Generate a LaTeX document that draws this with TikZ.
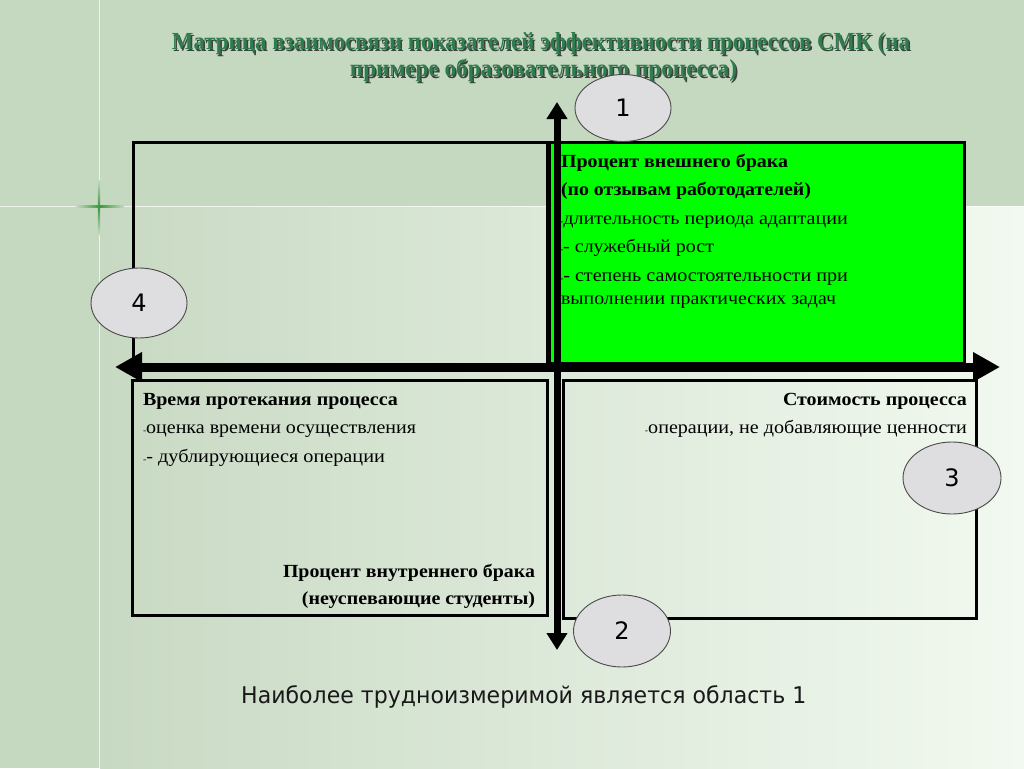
\documentclass[tikz,border=0pt]{standalone}
\usepackage{fontspec}
\usepackage{graphicx}
\setmainfont{Liberation Serif}
\newfontfamily\dejavu{DejaVu Sans}
\usetikzlibrary{arrows.meta,shapes.geometric}

\definecolor{bgout}{HTML}{C5D8C0}
\definecolor{bgleft}{HTML}{C8D9C3}
\definecolor{bgright}{HTML}{F2F9F0}
\definecolor{titlegreen}{HTML}{2F7D4F}
\definecolor{titleshadow}{HTML}{1E1E1E}
\definecolor{brightgreen}{HTML}{00FF00}
\definecolor{ellfill}{HTML}{DEDEE0}
\definecolor{ellline}{HTML}{4A4A4A}
\definecolor{sparkgreen}{HTML}{3C9A3C}

\newcommand{\fitw}[2]{\resizebox{#1}{\height}{#2}}
\newcommand{\smdash}{{\fontsize{9}{9}\selectfont -}}

\begin{document}
\begin{tikzpicture}[x=1pt,y=-1pt,
  quad/.style={draw=black, line width=3pt, rectangle, inner sep=0pt, outer sep=0pt, anchor=north west},
  num/.style={ellipse, draw=ellline, line width=0.9pt, fill=ellfill, inner sep=0pt,
              font=\dejavu\fontsize{24}{24}\selectfont},
  txt/.style={inner sep=0pt, outer sep=0pt, font=\fontsize{18.5}{20}\selectfont, text=black},
  btxt/.style={txt, font=\fontsize{18.5}{20}\selectfont\bfseries},
  ttl/.style={inner sep=0pt, outer sep=0pt, anchor=base, font=\fontsize{24.5}{26}\selectfont\bfseries},
  axis/.style={draw=black},
]
\useasboundingbox (0,0) rectangle (1024,768);
% background
\fill[bgout] (0,0) rectangle (1024,768);
\shade[left color=bgleft, right color=bgright] (100,206) rectangle (1024,768);
\draw[white, opacity=0.7, line width=1pt] (99,0) -- (99,768);
\draw[white, opacity=0.7, line width=1pt] (0,206.5) -- (1024,206.5);
\shade[left color=bgout, right color=bgout, middle color=sparkgreen] (76,205.3) rectangle (124,207.7);
\shade[top color=bgout, bottom color=bgout, middle color=sparkgreen] (97.8,180) rectangle (100.2,234);

% title
\node[ttl, text=titleshadow, opacity=0.8] at (542.5,51.5) {\fitw{738pt}{Матрица взаимосвязи показателей эффективности процессов СМК (на}};
\node[ttl, text=titlegreen] (title1) at (541,50) {\fitw{738pt}{Матрица взаимосвязи показателей эффективности процессов СМК (на}};
\node[ttl, text=titleshadow, opacity=0.8] at (545,78.5) {\fitw{387pt}{примере образовательного процесса)}};
\node[ttl, text=titlegreen] (title2) at (543.5,77) {\fitw{387pt}{примере образовательного процесса)}};

% quadrants
\node[quad, fill=brightgreen, minimum width=415pt, minimum height=221pt] (q1) at (549,142) {};
\node[quad, minimum width=414pt, minimum height=223pt] (q4) at (133.5,142) {};
\node[quad, minimum width=415pt, minimum height=235pt] (q3) at (132.5,380.5) {};
\node[quad, minimum width=413pt, minimum height=237.5pt] (q2) at (563.5,380.5) {};

% texts quadrant 1
\node[btxt, anchor=base west] (t11) at (561,167) {\fitw{227pt}{Процент внешнего брака}};
\node[btxt, anchor=base west] (t12) at (561,195) {\fitw{250pt}{(по отзывам работодателей)}};
\node[txt, anchor=base west] (t13) at (560,224) {\fitw{288pt}{\smdash длительность периода адаптации}};
\node[txt, anchor=base west] (t14) at (560,252) {\fitw{154pt}{\smdash- служебный рост}};
\node[txt, anchor=base west] (t15) at (560,281) {\fitw{288pt}{\smdash- степень самостоятельности при}};
\node[txt, anchor=base west] (t16) at (561,304) {\fitw{275pt}{выполнении практических задач}};

% texts quadrant bottom-left
\node[btxt, anchor=base west] (t31) at (143,405) {\fitw{255pt}{Время протекания процесса}};
\node[txt, anchor=base west] (t32) at (143,433) {\fitw{273pt}{\smdash оценка времени осуществления}};
\node[txt, anchor=base west] (t33) at (143,462) {\fitw{242pt}{\smdash- дублирующиеся операции}};
\node[btxt, anchor=base east] (t34) at (535,577) {\fitw{252pt}{Процент внутреннего брака}};
\node[btxt, anchor=base east] (t35) at (535,604) {\fitw{233pt}{(неуспевающие студенты)}};

% texts quadrant bottom-right
\node[btxt, anchor=base east] (t21) at (967,405) {\fitw{184pt}{Стоимость процесса}};
\node[txt, anchor=base east] (t22) at (967,433) {\fitw{322pt}{\smdash операции, не добавляющие ценности}};

% axes
\coordinate (hl) at (115,367);
\coordinate (hr) at (1000,367);
\coordinate (vt) at (557,102);
\coordinate (vb) at (557,650);
\draw[axis, line width=9pt, {Triangle[length=27pt,width=28pt]}-{Triangle[length=27pt,width=28pt]}] (hl) -- (hr);
\draw[axis, line width=7pt, {Triangle[length=17pt,width=20pt]}-{Triangle[length=17pt,width=20pt]}] (vb) -- (vt);

% numbered ellipses
\node[num, minimum width=96pt, minimum height=67pt] (e1) at (623,108) {1};
\node[num, minimum width=96pt, minimum height=70pt] (e4) at (139,303) {4};
\node[num, minimum width=98pt, minimum height=72pt] (e3) at (952,478) {3};
\node[num, minimum width=97pt, minimum height=72pt] (e2) at (622,631) {2};

% bottom text
\node[inner sep=0pt, anchor=base west, font=\dejavu\fontsize{23}{24}\selectfont, text=black!90] (foot) at (241,703) {\fitw{565pt}{Наиболее трудноизмеримой является область 1}};
\end{tikzpicture}
\end{document}
